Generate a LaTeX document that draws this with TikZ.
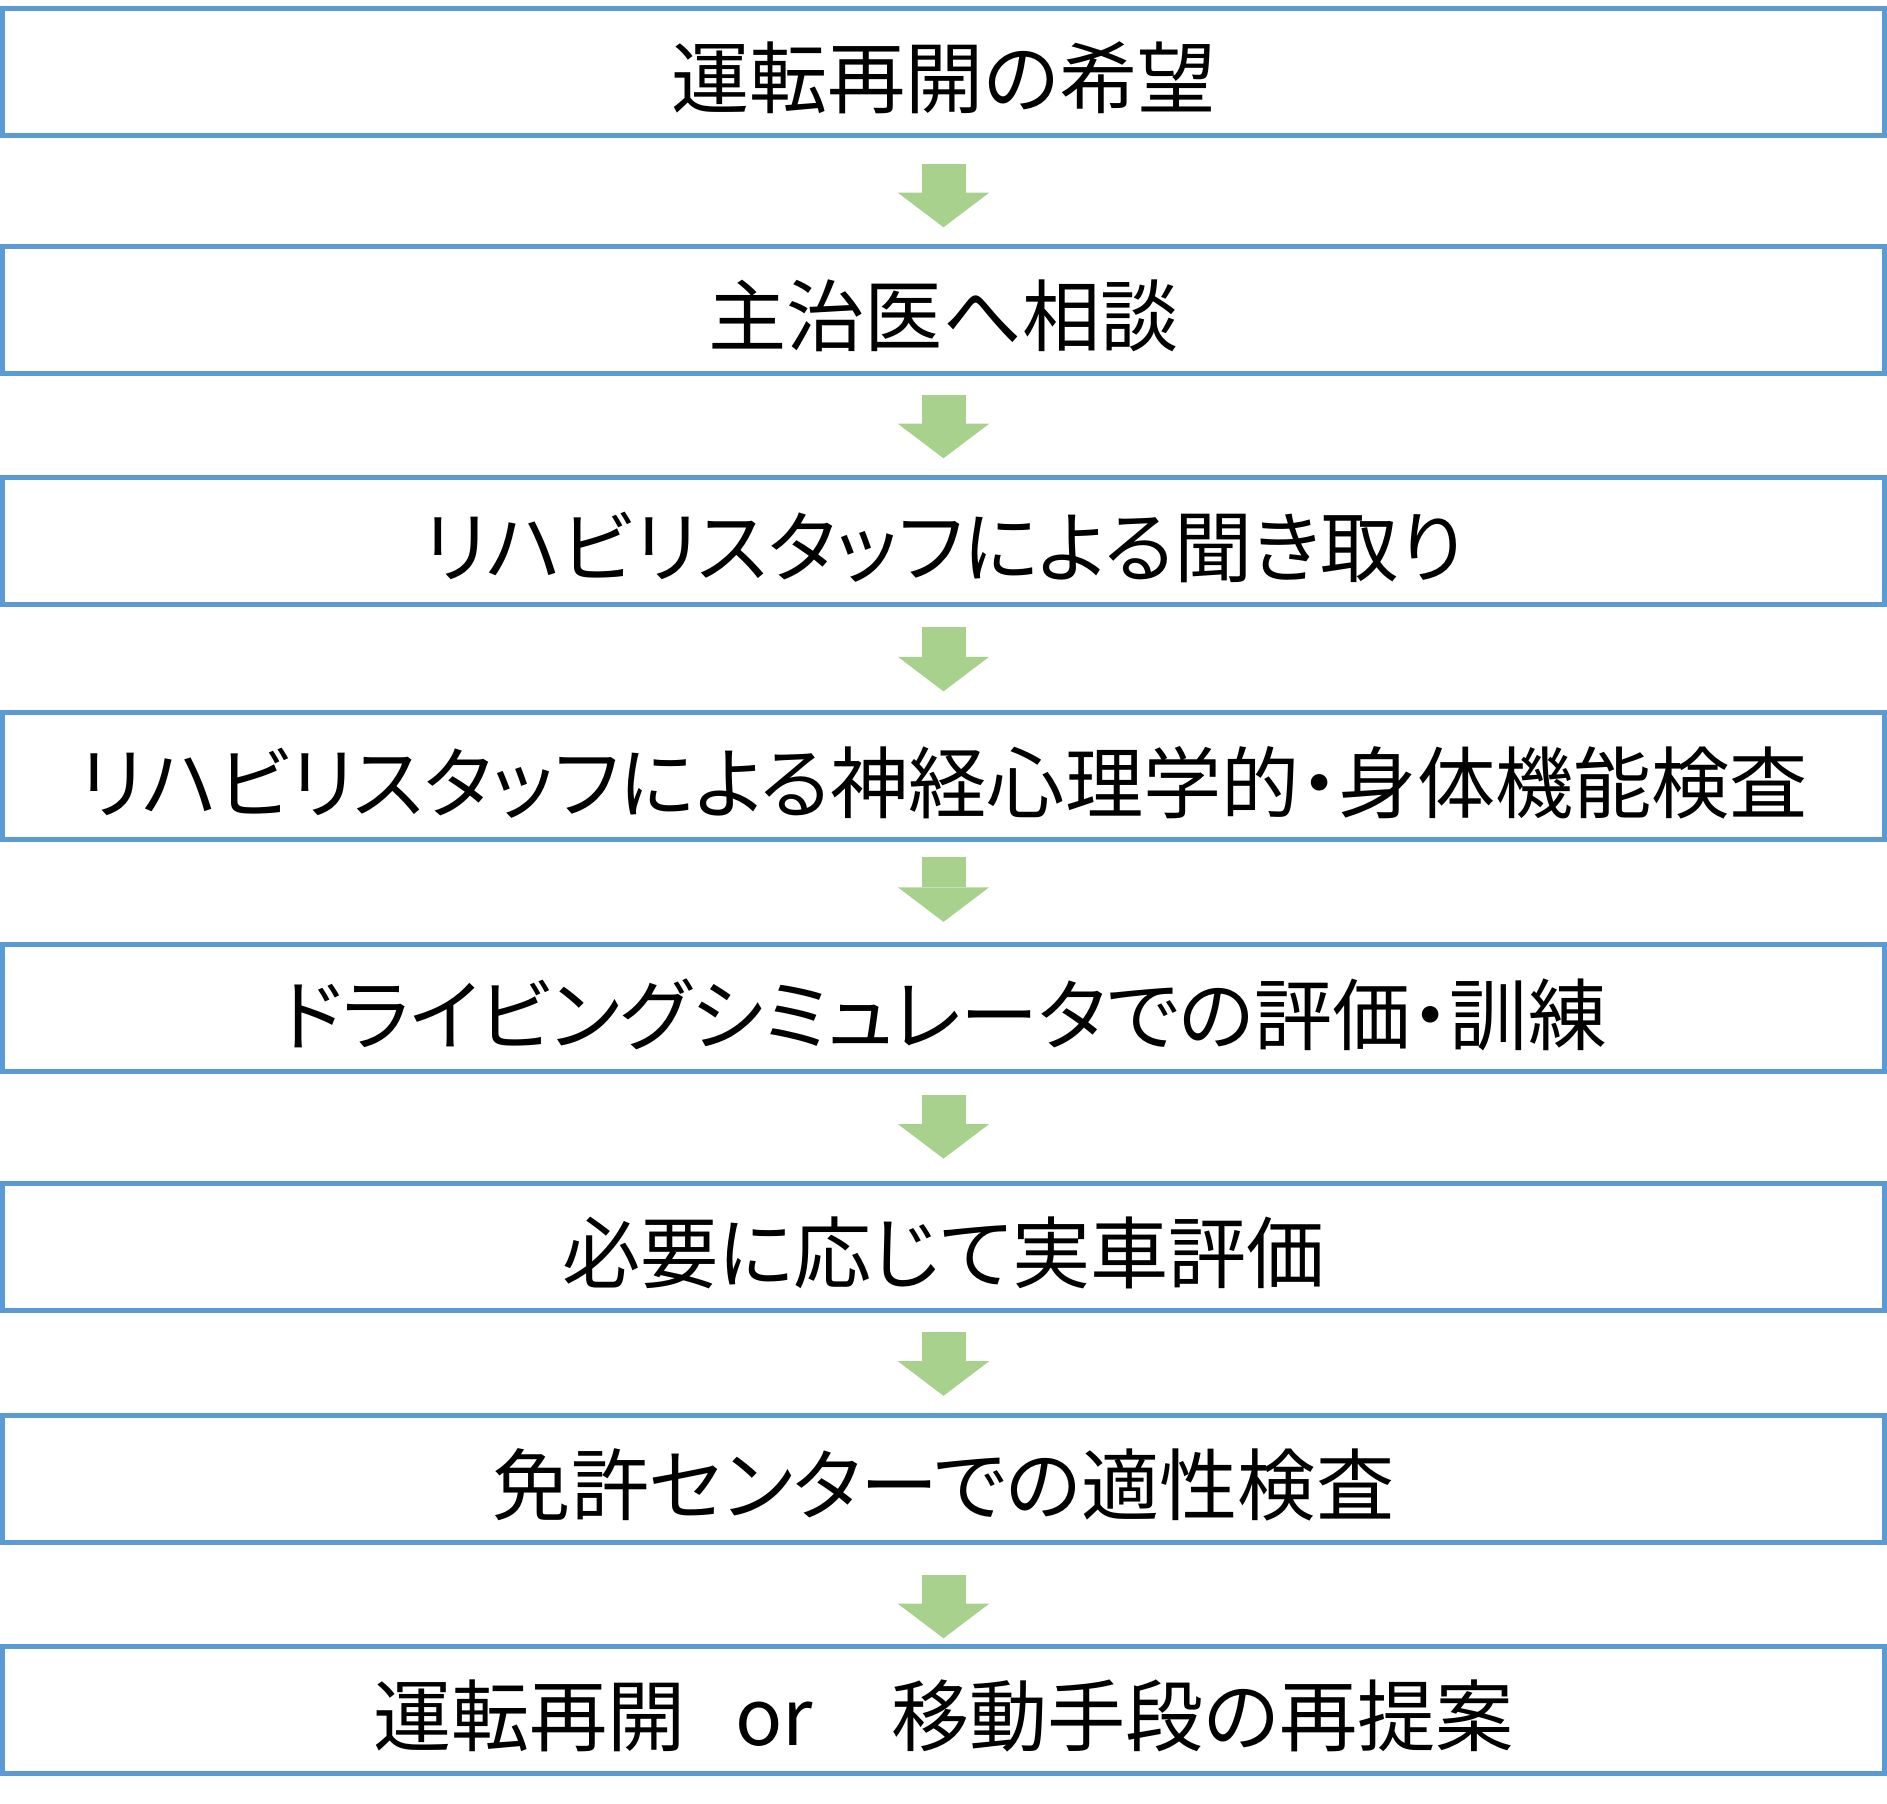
\documentclass[tikz,border=0pt]{standalone}
\usepackage{fontspec}
\setmainfont{Noto Sans CJK JP}[RawFeature={+palt}]
\usetikzlibrary{arrows.meta,positioning}
\definecolor{boxblue}{HTML}{5B9BD5}
\definecolor{arrowgreen}{HTML}{A9D18E}

\begin{document}
\begin{tikzpicture}
[line width=0.1cm,
stage/.style={rectangle, draw=boxblue, inner sep=0pt, minimum width=37.64cm, minimum height=2.54cm, font=\fontsize{44.5pt}{54pt}\selectfont, text depth=0pt},
flow/.style={draw=arrowgreen, line width=0.88cm, {Triangle[length=0.692cm, width=1.828cm, line width=0pt]}-}]

\useasboundingbox (0,0) rectangle (37.74,-36.06);

\node[stage] (stage1) at (18.87,-1.44) {\raisebox{-0.12cm}{運転再開の希望}};
\node[stage] (stage2) at (18.87,-6.20) {\raisebox{-0.12cm}{主治医へ相談}}
  edge [flow, shorten >=0.514cm, shorten <=0.334cm] (stage1);
\node[stage] (stage3) at (18.87,-10.82) {\raisebox{-0.12cm}{リハビリスタッフによる聞き取り}}
  edge [flow, shorten >=0.374cm, shorten <=0.334cm] (stage2);
\node[stage] (stage4) at (18.87,-15.525) {\raisebox{-0.12cm}{リハビリスタッフによる神経心理学的・身体機能検査}}
  edge [flow, shorten >=0.40cm, shorten <=0.378cm] (stage3);
\node[stage] (stage5) at (18.87,-20.165) {\raisebox{-0.12cm}{ドライビングシミュレータでの評価・訓練}}
  edge [flow, shorten >=0.30cm, shorten <=0.408cm] (stage4);
\node[stage] (stage6) at (18.87,-24.94) {\raisebox{-0.12cm}{必要に応じて実車評価}}
  edge [flow, shorten >=0.41cm, shorten <=0.448cm] (stage5);
\node[stage] (stage7) at (18.87,-29.576) {\raisebox{-0.12cm}{免許センターでの適性検査}}
  edge [flow, shorten >=0.38cm, shorten <=0.34cm] (stage6);
\node[stage] (stage8) at (18.87,-34.20) {\raisebox{-0.12cm}{運転再開　\kern-0.37em or　移動手段の再提案}}
  edge [flow, shorten >=0.594cm, shorten <=0.114cm] (stage7);
\end{tikzpicture}
\end{document}
